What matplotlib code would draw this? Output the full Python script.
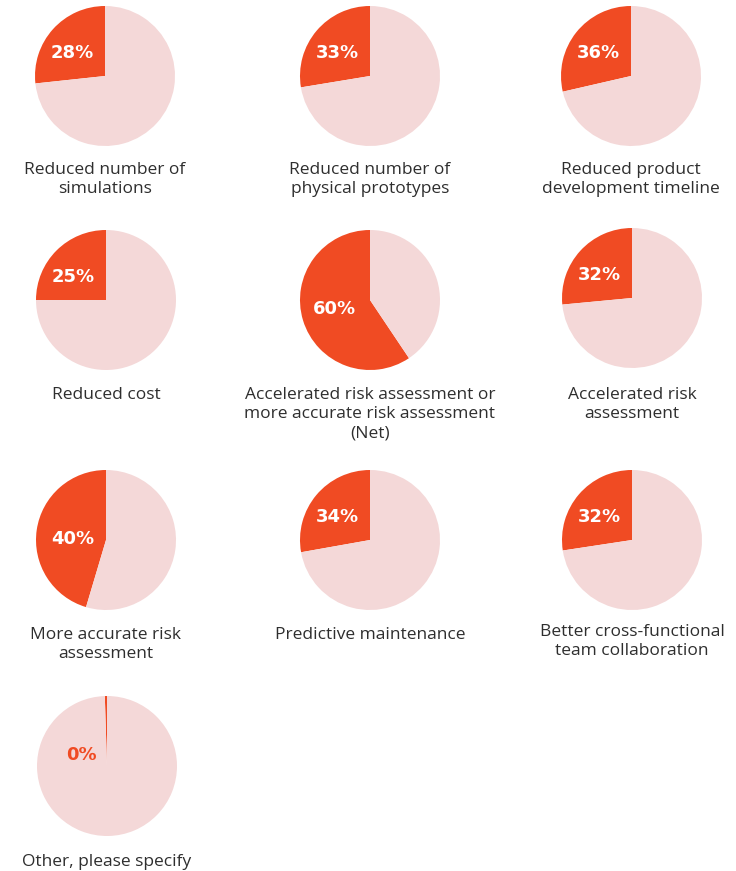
import matplotlib.pyplot as plt
import numpy as np

# benefit labels and the percentages printed on each pie
labels = [
    "Reduced number of\nsimulations",
    "Reduced number of\nphysical prototypes",
    "Reduced product\ndevelopment timeline",
    "Reduced cost",
    "Accelerated risk assessment or\nmore accurate risk assessment\n(Net)",
    "Accelerated risk\nassessment",
    "More accurate risk\nassessment",
    "Predictive maintenance",
    "Better cross-functional\nteam collaboration",
    "Other, please specify",
]
pct_labels = [28, 33, 36, 25, 60, 32, 40, 34, 32, 0]
# wedge sizes as actually drawn in the picture (percent of circle)
wedge_shares = [26.7, 27.6, 28.6, 25.0, 59.4, 26.5, 45.4, 27.8, 27.4, 0.5]

ORANGE = "#F04B23"
PINK = "#F4D8D8"
TEXT = "#2e2e2e"

W, H = 736, 871
fig = plt.figure(figsize=(W / 100, H / 100), dpi=100)
plt.rcParams['font.family'] = ['Open Sans', 'DejaVu Sans']

# pie centers in pixels (x, y from top)
centers = [(105, 76), (370, 76), (631, 76),
           (106, 300), (370, 300), (632, 298),
           (106, 540), (370, 540), (632, 540),
           (107, 766)]
label_y = [168, 168, 168, 393, 393, 393, 633, 633, 630, 860]
R = 70

for i, lab in enumerate(labels):
    share = wedge_shares[i]
    cx, cy = centers[i]
    ax = fig.add_axes([(cx - R) / W, 1 - (cy + R) / H, 2 * R / W, 2 * R / H])
    ax.pie([share, 100 - share], colors=[ORANGE, PINK], startangle=90,
           counterclock=True, radius=1, wedgeprops=dict(linewidth=0))
    ax.set_xlim(-1, 1)
    ax.set_ylim(-1, 1)
    ax.set_aspect('equal')
    ax.axis('off')

    # percentage text placement inside the wedge
    if share < 2:
        tx, ty, col = -0.36, 0.16, ORANGE
    elif share < 40:
        tx, ty, col = -0.47, 0.33, 'white'
    elif share < 50:
        tx, ty, col = -0.47, 0.01, 'white'
    else:
        tx, ty, col = -0.51, -0.13, 'white'
    ax.text(tx, ty, f"{pct_labels[i]}%", color=col, fontsize=13,
            fontweight='bold', family='DejaVu Sans', ha='center', va='center')

    fig.text(cx / W, 1 - (label_y[i] - 6) / H, lab, ha='center', va='top',
             fontsize=12.5, color=TEXT, linespacing=1.25)

fig.savefig("out.png", dpi=100, facecolor='white')
